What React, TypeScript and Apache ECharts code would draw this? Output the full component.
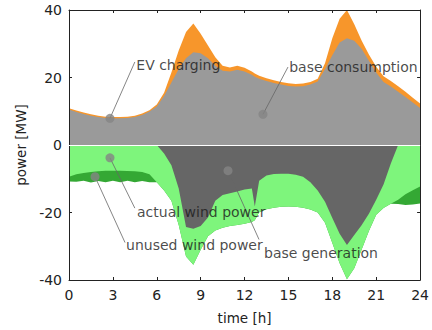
import React, { useEffect, useRef } from "react";
import * as echarts from "echarts";

const hours = [0, 0.5, 1, 1.5, 2, 2.5, 3, 3.5, 4, 4.5, 5, 5.5, 6, 6.5, 7, 7.5, 8, 8.5, 9, 9.5, 10, 10.5, 11, 11.5, 12, 12.5, 12.7, 13, 13.5, 14, 14.5, 15, 15.5, 16, 16.5, 17, 17.5, 18, 18.5, 19, 19.5, 20, 20.5, 21, 21.5, 22, 22.5, 23, 23.5, 24];

const baseConsumption = [10.5, 9.8, 9.2, 8.7, 8.3, 8.0, 7.9, 7.9, 8.0, 8.3, 8.9, 9.9, 11.4, 14.5, 18.5, 22.5, 25.7, 27.5, 27.2, 25.7, 23.5, 22.0, 21.8, 22.3, 21.8, 20.8, 20.2, 19.6, 19.0, 18.4, 17.9, 17.5, 17.3, 17.4, 17.9, 18.8, 22.5, 26.6, 30.4, 31.6, 30.9, 28.5, 25.0, 21.5, 18.7, 17.3, 15.8, 14.2, 12.6, 11.0];

const evCharging = [0.4, 0.4, 0.4, 0.4, 0.4, 0.4, 0.4, 0.4, 0.4, 0.4, 0.4, 0.4, 0.6, 1.0, 3.0, 5.5, 7.8, 8.5, 5.8, 3.8, 2.5, 1.5, 1.2, 1.2, 1.1, 1.0, 1.0, 0.9, 0.8, 0.8, 0.8, 0.8, 0.8, 0.8, 0.8, 0.8, 1.7, 5.0, 7.0, 8.4, 4.9, 2.5, 1.8, 1.7, 1.7, 1.7, 1.6, 1.6, 1.4, 1.3];

const baseGeneration = [0, 0, 0, 0, 0, 0, 0, 0, 0, 0, 0, 0, 0, -2.5, -6.0, -12.9, -24.3, -24.8, -24.0, -21.5, -16.5, -14.8, -14.3, -13.8, -13.2, -12.9, -18.2, -10.6, -9.0, -8.6, -8.5, -8.5, -8.8, -9.4, -11.0, -13.5, -16.8, -21.6, -26.3, -29.6, -26.7, -23.8, -20.4, -16.2, -11.7, -5.5, 0, 0, 0, 0];

const actualWind = [-9.4, -8.7, -8.3, -8.0, -7.8, -7.6, -7.6, -7.6, -7.7, -7.8, -8.0, -8.7, -11.0, -11.0, -10.5, -10.8, -8.7, -10.7, -7.0, -5.5, -8.8, -9.7, -9.7, -9.9, -10.1, -9.9, -4.1, -9.3, -10.0, -10.0, -9.8, -9.7, -9.5, -9.2, -8.1, -6.5, -6.2, -7.4, -8.7, -10.2, -9.8, -7.2, -5.1, -4.5, -7.0, -11.9, -16.2, -14.6, -13.4, -12.3];

const unusedWind = [-1.4, -2.2, -2.3, -3.1, -2.9, -3.4, -3.0, -3.4, -2.9, -3.2, -2.7, -2.3, 0, 0, 0, 0, 0, 0, 0, 0, 0, 0, 0, 0, 0, 0, 0, 0, 0, 0, 0, 0, 0, 0, 0, 0, 0, 0, 0, 0, 0, 0, 0, 0, 0, 0, -1.3, -3.2, -4.2, -5.0];

const annotationTexts = ["EV charging", "base consumption", "actual wind power", "unused wind power", "base generation"];
const annotationDots = [[2.8, 7.9], [13.26, 9.1], [2.8, -3.8], [1.78, -9.4], [10.87, -7.6]];
const annotationEnds = [[4.5, 24.6], [14.97, 23.1], [4.5, -18.7], [3.83, -28.9], [12.99, -28.0]];
const annotationAnchors = [[4.6, 23.6], [15.05, 23.0], [4.65, -19.9], [3.9, -29.5], [13.33, -31.9]];

// cumulative layers (outer layers drawn first, inner ones on top)
const sumArrays = (...arrs: number[][]) => hours.map((_, i) => arrs.reduce((s, a) => s + a[i], 0));

export default function App() {
  const ref = useRef<HTMLDivElement>(null);
  useEffect(() => {
    const chart = echarts.init(ref.current as HTMLDivElement, null, { renderer: "svg" });
    const font = "'DejaVu Sans', sans-serif";
    const pair = (arr: number[]) => hours.map((h, i) => [h, arr[i]]);
    const area = (name: string, arr: number[], color: string, z: number, extra: any = {}) => ({
      name,
      type: "line",
      data: pair(arr),
      symbol: "none",
      showSymbol: false,
      lineStyle: { width: 0 },
      areaStyle: { color, opacity: 1, origin: 0 },
      itemStyle: { color },
      silent: true,
      z,
      ...extra,
    });
    const axisLine = { show: true, onZero: false, lineStyle: { color: "#222", width: 1 } };
    const axisTick = { show: true, inside: true, length: 3, lineStyle: { color: "#222", width: 1 } };
    chart.setOption({
      animation: false,
      grid: { left: 69, right: 11, top: 10, bottom: 47 },
      xAxis: [
        {
          type: "value", min: 0, max: 24, interval: 3, position: "bottom", z: 3,
          axisLine, axisTick, splitLine: { show: false },
          axisLabel: { color: "#222", fontSize: 14, fontFamily: font, margin: 8 },
          name: "time [h]", nameLocation: "middle", nameGap: 31,
          nameTextStyle: { color: "#222", fontSize: 13.5, fontFamily: font },
        },
        {
          type: "value", min: 0, max: 24, interval: 3, position: "top", z: 3,
          axisLine, axisTick, splitLine: { show: false }, axisLabel: { show: false },
        },
      ],
      yAxis: [
        {
          type: "value", min: -40, max: 40, interval: 20, position: "left", z: 3,
          axisLine, axisTick, splitLine: { show: false },
          axisLabel: { color: "#222", fontSize: 14, fontFamily: font, margin: 7 },
          name: "power [MW]", nameLocation: "middle", nameGap: 38,
          nameTextStyle: { color: "#222", fontSize: 13.5, fontFamily: font },
        },
        {
          type: "value", min: -40, max: 40, interval: 20, position: "right", z: 3,
          axisLine, axisTick, splitLine: { show: false }, axisLabel: { show: false },
        },
      ],
      series: [
        area("EV charging", sumArrays(baseConsumption, evCharging), "#f7962b", 1),
        area("base consumption", baseConsumption, "#9a9a9a", 2, {
          markLine: {
            silent: true, symbol: ["none", "none"], label: { show: false },
            lineStyle: { color: "#ffffff", width: 1.2, type: "solid" },
            data: [{ yAxis: 0 }],
          },
        }),
        area("unused wind power", sumArrays(baseGeneration, actualWind, unusedWind), "#34a834", 1),
        area("actual wind power", sumArrays(baseGeneration, actualWind), "#7ef57c", 1.5),
        area("base generation", baseGeneration, "#666666", 2),
        {
          type: "scatter",
          data: annotationDots,
          symbolSize: 9,
          itemStyle: { color: "#858585" },
          silent: true,
          z: 5,
          markLine: {
            silent: true, symbol: ["none", "none"], label: { show: false },
            lineStyle: { color: "#666666", width: 0.8, type: "solid" },
            data: annotationDots.map((d, i) => [{ coord: d }, { coord: annotationEnds[i] }]),
          },
        },
        {
          type: "scatter",
          data: annotationAnchors.map((a, i) => ({ value: a, name: annotationTexts[i] })),
          symbolSize: 0,
          silent: true,
          z: 6,
          label: {
            show: true, position: "right", distance: 0, formatter: "{b}",
            color: "#1a1a1a", fontSize: 14, fontFamily: font,
          },
        },
      ],
    });
    return () => chart.dispose();
  }, []);
  return <div ref={ref} style={{ position: "fixed", left: 0, top: 0, width: 432, height: 330, background: "#fff" }} />;
}
